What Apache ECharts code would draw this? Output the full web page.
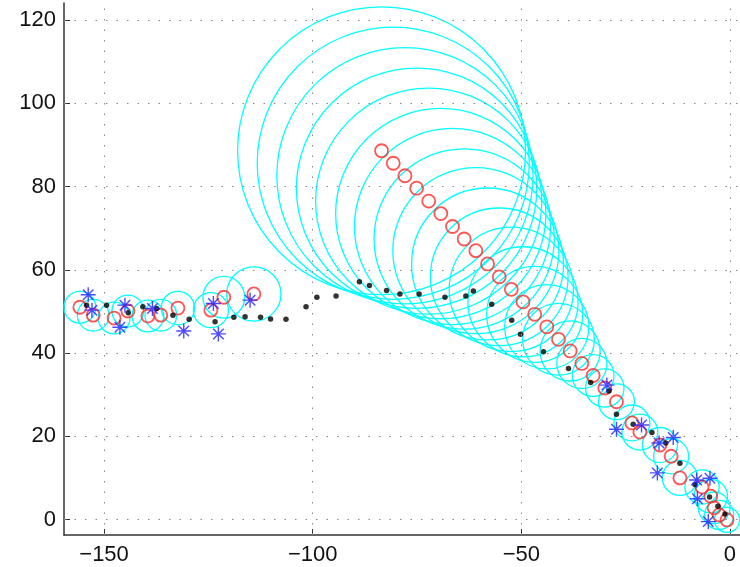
<!DOCTYPE html>
<html><head><meta charset="utf-8">
<script src="https://cdn.jsdelivr.net/npm/echarts@6/dist/echarts.min.js"></script>
<style>html,body{margin:0;padding:0;background:#fff}#c{width:740px;height:567px}</style>
</head><body><div id="c"></div>
<script>
// estimated positions (red circles)
const estX = [-155.8,-152.6,-147.6,-144.3,-139.5,-136.4,-132.3,-124.4,-121.3,-114.1,
  -83.5,-80.7,-77.9,-75.1,-72.2,-69.3,-66.5,-63.7,-60.9,-58.1,-55.3,-52.4,-49.6,-46.8,-43.9,-41.1,-38.3,-35.5,-32.8,-30.0,-27.2,
  -23.5,-21.6,-16.8,-14.1,-12.0,-6.7,-4.6,-3.8,-2.6,-0.7];
const estY = [51.0,49.1,48.4,50.1,48.9,49.1,50.8,50.3,53.4,54.2,
  88.6,85.6,82.6,79.6,76.5,73.5,70.4,67.4,64.6,61.4,58.3,55.3,52.3,49.3,46.3,43.3,40.5,37.5,34.6,31.6,28.3,
  23.2,21.0,17.9,15.2,10.0,7.8,5.6,2.8,1.1,-0.1];
// uncertainty radius (cyan circles), data units
const covR = [3.8,3.8,3.8,3.8,3.8,3.8,4.0,4.2,5.0,6.5,
  34.5,32.6,30.7,28.8,27.1,25.2,23.5,21.6,19.9,18.2,16.5,14.9,13.2,11.5,10.1,8.6,7.2,6.0,5.0,4.6,4.3,
  4.3,4.3,4.2,4.2,4.2,4.1,4.0,3.8,3.5,3.0];
// true path (black dots)
const trueX = [-154.2,-149.4,-144.2,-140.7,-137.4,-133.5,-129.6,-123.4,-118.9,-116.2,-112.5,-110.1,-106.4,-101.6,-99.0,-94.4,
  -88.8,-86.4,-82.3,-79.1,-74.5,-68.3,-63.3,-61.5,-57.1,-52.3,-50.2,-44.7,-38.7,-33.4,-29.0,-27.2,-23.2,-18.7,-15.4,-12.0,-8.4,-4.9,-2.9,-1.2];
const trueY = [51.5,51.5,49.7,51.1,50.7,49.1,48.1,47.5,48.6,48.7,48.6,48.2,48.1,51.1,53.4,53.7,
  57.1,56.2,55.0,54.2,54.2,53.4,53.7,54.9,51.7,47.9,44.5,40.3,36.3,32.9,30.9,25.3,22.9,20.9,18.4,13.5,8.4,5.4,3.2,1.3];
// measurements (blue stars)
const measX = [-153.8,-152.9,-146.2,-145.0,-138.4,-130.9,-123.8,-122.6,-115.0,
  -29.5,-27.2,-21.2,-17.0,-13.6,-17.4,-8.0,-4.8,-7.8,-5.2];
const measY = [54.0,50.3,46.2,51.5,50.7,45.3,51.9,44.6,52.7,
  32.3,21.7,22.7,18.4,19.7,11.2,9.5,9.9,5.0,-0.5];
const xTicks = [-150,-100,-50,0];
const yTicks = [0,20,40,60,80,100,120];

const fmt = v => (v < 0 ? '\u2212' + (-v) : String(v));
const chart = echarts.init(document.getElementById('c'));
const axisCommon = {
  type: 'value',
  axisLine: {show: true, onZero: false, lineStyle: {color: '#333', width: 1.5}},
  splitLine: {show: false},
};
chart.setOption({
  animation: false,
  backgroundColor: '#fff',
  grid: {left: 64, right: 0, top: 3, bottom: 32},
  xAxis: Object.assign({}, axisCommon, {
    min: -159.6, max: 2.4,
    axisTick: {show: true, inside: true, length: 6, customValues: xTicks, lineStyle: {color: '#333'}},
    axisLabel: {customValues: xTicks, formatter: fmt, color: '#111', fontSize: 22, fontFamily: 'Liberation Sans', margin: 9}
  }),
  yAxis: Object.assign({}, axisCommon, {
    min: -3.72, max: 124.1,
    axisTick: {show: true, inside: true, length: 6, customValues: yTicks, lineStyle: {color: '#333'}},
    axisLabel: {customValues: yTicks, formatter: fmt, color: '#111', fontSize: 22, fontFamily: 'Liberation Sans', margin: 8}
  }),
  series: [
    {
      type: 'line', data: [], z: 0, silent: true,
      markLine: {
        silent: true, symbol: 'none', label: {show: false}, animation: false,
        lineStyle: {type: [1.5, 9], color: '#888', width: 1},
        emphasis: {disabled: true},
        data: xTicks.map(v => ({xAxis: v})).concat(yTicks.map(v => ({yAxis: v})))
      }
    },
    {
      type: 'custom', z: 1, silent: true,
      data: estX.map((x, i) => [x, estY[i], covR[i]]),
      encode: {x: 0, y: 1},
      renderItem: function (params, api) {
        const c = api.coord([api.value(0), api.value(1)]);
        const s = api.size([api.value(2), api.value(2)]);
        return {type: 'circle', shape: {cx: c[0], cy: c[1], r: s[0]},
          style: {fill: 'none', stroke: '#00ffff', lineWidth: 1.3}};
      }
    },
    {
      type: 'scatter', z: 2, silent: true,
      data: estX.map((x, i) => [x, estY[i]]),
      symbol: 'circle', symbolSize: 13,
      itemStyle: {color: 'rgba(0,0,0,0)', borderColor: '#ff2a2a', borderWidth: 1.8}
    },
    {
      type: 'scatter', z: 3, silent: true,
      data: trueX.map((x, i) => [x, trueY[i]]),
      symbol: 'circle', symbolSize: 5.5,
      itemStyle: {color: '#000'}
    },
    {
      type: 'scatter', z: 4, silent: true,
      data: measX.map((x, i) => [x, measY[i]]),
      symbol: 'path://M10,0L10,20M0,10L20,10M3,3L17,17M3,17L17,3', symbolSize: 15,
      itemStyle: {color: 'none', borderColor: '#1f1fff', borderWidth: 1.4}
    }
  ]
});
</script></body></html>
